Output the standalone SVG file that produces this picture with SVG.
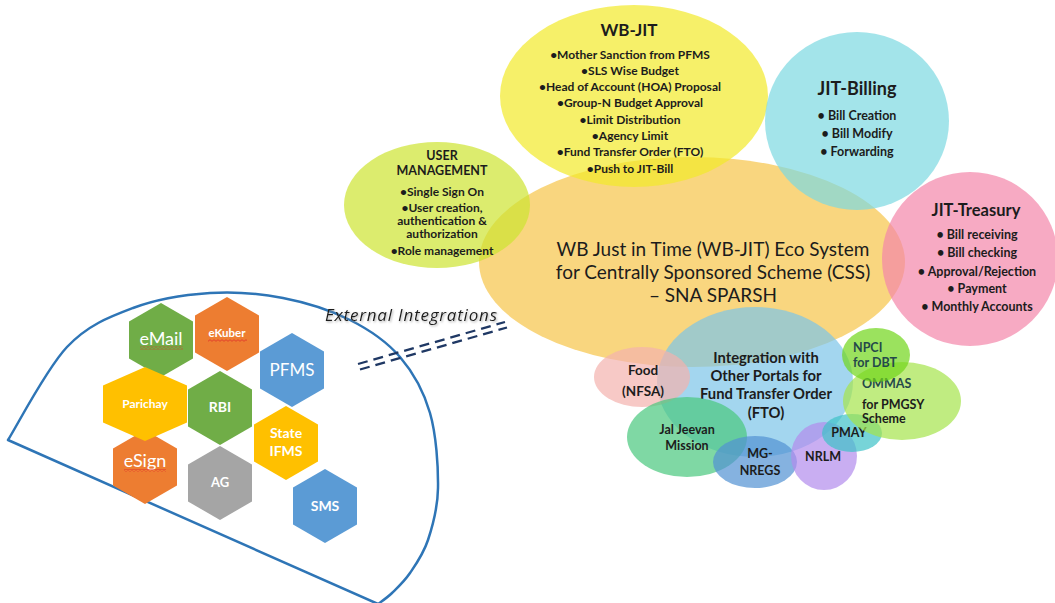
<svg xmlns="http://www.w3.org/2000/svg" width="1055" height="603" viewBox="0 0 1055 603">
<defs>
<style>
.bub{fill-opacity:0.7}
.t{font-family:Lato,"Liberation Sans",sans-serif;fill:#1c1c1c;text-anchor:middle}
.b{font-weight:700}
.s{text-anchor:start}
.dk{fill:#24494a}
.hx text{font-family:Lato,"Liberation Sans",sans-serif;fill:#fff;text-anchor:middle}
.green{fill:#70AD47}.orange{fill:#ED7D31}.blue{fill:#5B9BD5}.yellow{fill:#FFC000}.gray{fill:#A5A5A5}
.dash{stroke:#1F3864;stroke-width:2.3;stroke-dasharray:10 6;fill:none}
</style>
<polygon id="hex" points="0,-37 32,-18.5 32,18.5 0,37 -32,18.5 -32,-18.5"/>
<pattern id="sq" width="4" height="3" patternUnits="userSpaceOnUse"><path d="M0 2.3 L2 0.7 L4 2.3" stroke="#E0302A" stroke-width="0.8" fill="none"/></pattern>
<filter id="sh" x="-5%" y="-30%" width="110%" height="160%"><feDropShadow dx="1" dy="1.2" stdDeviation="0.8" flood-color="#888" flood-opacity="0.7"/></filter>
</defs>
<rect width="1055" height="603" fill="#fff"/>

<g id="main-ecosystem">
<ellipse class="bub" cx="692" cy="262" rx="213" ry="105" fill="#F6C448"/>
<text class="t" font-size="19" x="713" y="256">WB Just in Time (WB-JIT) Eco System</text>
<text class="t" font-size="19" x="713" y="279">for Centrally Sponsored Scheme (CSS)</text>
<text class="t" font-size="19" x="713" y="302">– SNA SPARSH</text>
</g>

<g id="wb-jit">
<ellipse class="bub" cx="634" cy="96" rx="134" ry="91" fill="#F2EA2A"/>
<text class="t b" font-size="17" x="629" y="36">WB-JIT</text>
<g font-size="12">
<text class="t b" x="630" y="59">•Mother Sanction from PFMS</text>
<text class="t b" x="630" y="75">•SLS Wise Budget</text>
<text class="t b" x="630" y="91">•Head of Account (HOA) Proposal</text>
<text class="t b" x="630" y="107">•Group-N Budget Approval</text>
<text class="t b" x="630" y="124">•Limit Distribution</text>
<text class="t b" x="630" y="140">•Agency Limit</text>
<text class="t b" x="630" y="156">•Fund Transfer Order (FTO)</text>
<text class="t b" x="630" y="173">•Push to JIT-Bill</text>
</g>
</g>

<g id="user-management">
<ellipse class="bub" cx="437" cy="205" rx="93" ry="63" fill="#CDE430"/>
<text class="t b" font-size="12.5" x="442" y="160">USER</text>
<text class="t b" font-size="12.5" x="442" y="175">MANAGEMENT</text>
<g font-size="12">
<text class="t b" x="442" y="196">•Single Sign On</text>
<text class="t b" x="442" y="212">•User creation,</text>
<text class="t b" x="442" y="225">authentication &amp;</text>
<text class="t b" x="442" y="238">authorization</text>
<text class="t b" x="442" y="255">•Role management</text>
</g>
</g>

<g id="jit-billing">
<ellipse class="bub" cx="857" cy="121" rx="92" ry="89" fill="#7CD8E1"/>
<text class="t b" font-size="18" x="857" y="95">JIT-Billing</text>
<g font-size="12.5">
<text class="t b" x="857" y="120">• Bill Creation</text>
<text class="t b" x="857" y="138">• Bill Modify</text>
<text class="t b" x="857" y="156">• Forwarding</text>
</g>
</g>

<g id="jit-treasury">
<ellipse class="bub" cx="970" cy="259" rx="88" ry="87" fill="#F486A9"/>
<text class="t b" font-size="16.5" x="976" y="216">JIT-Treasury</text>
<g font-size="12.5">
<text class="t b" x="977" y="239">• Bill receiving</text>
<text class="t b" x="977" y="257">• Bill checking</text>
<text class="t b" x="977" y="276">• Approval/Rejection</text>
<text class="t b" x="977" y="293">• Payment</text>
<text class="t b" x="977" y="311">• Monthly Accounts</text>
</g>
</g>

<g id="integration-fto">
<ellipse class="bub" cx="755" cy="382" rx="98" ry="75" fill="#7CC5E8"/>
<g font-size="14.8">
<text class="t b" x="766" y="363">Integration with</text>
<text class="t b" x="766" y="381">Other Portals for</text>
<text class="t b" x="766" y="399">Fund Transfer Order</text>
<text class="t b" x="766" y="418">(FTO)</text>
</g>
</g>

<g id="food-nfsa">
<ellipse class="bub" cx="642" cy="377" rx="48" ry="30" fill="#F4B2AE"/>
<text class="t b" font-size="13.5" x="643" y="375">Food</text>
<text class="t b" font-size="13.5" x="643" y="396">(NFSA)</text>
</g>

<g id="jal-jeevan">
<ellipse class="bub" cx="687" cy="437" rx="60" ry="40" fill="#48C77D"/>
<text class="t b" font-size="12.5" x="687" y="434">Jal Jeevan</text>
<text class="t b" font-size="12.5" x="687" y="450">Mission</text>
</g>

<g id="mg-nregs">
<ellipse class="bub" cx="755" cy="462" rx="42" ry="26" fill="#5192D3"/>
<text class="t b" font-size="12.5" x="760" y="458">MG-</text>
<text class="t b" font-size="12.5" x="760" y="475">NREGS</text>
</g>

<g id="nrlm">
<ellipse class="bub" cx="824" cy="456" rx="33" ry="34" fill="#B28BEC"/>
<text class="t b" font-size="12.5" x="823" y="461">NRLM</text>
</g>

<g id="pmay">
<ellipse class="bub" cx="852" cy="433" rx="30" ry="19" fill="#3DC2C7"/>
<text class="t b" font-size="12.5" x="849" y="437">PMAY</text>
</g>

<g id="ommas">
<ellipse class="bub" cx="902" cy="401" rx="59" ry="39" fill="#A5E44C"/>
<text class="t b s dk" font-size="12.5" x="862" y="388">OMMAS</text>
<text class="t b s" font-size="12.5" x="862" y="409">for PMGSY</text>
<text class="t b s" font-size="12.5" x="862" y="423">Scheme</text>
</g>

<g id="npci-dbt">
<ellipse class="bub" cx="876" cy="355" rx="34" ry="27" fill="#70D619"/>
<text class="t b s dk" font-size="12.5" x="853" y="352">NPCI</text>
<text class="t b s dk" font-size="12.5" x="853" y="367">for DBT</text>
</g>

<g id="external-integrations">
<path d="M8 440 C17.8 424.5 46.2 369 67 347 C87.8 325 109.2 317 133 308 C156.8 299 185 294.7 210 293 C235 291.3 259.7 293.5 283 298 C306.3 302.5 330.5 310.2 350 320 C369.5 329.8 386.7 341.5 400 357 C413.3 372.5 423.7 391.2 430 413 C436.3 434.8 438.3 466.8 438 488 C437.7 509.2 432.7 525.8 428 540 C423.3 554.2 416 564.2 410 573 C404 581.8 397.3 587.8 392 593 C386.7 598.2 380.3 602.2 378 604 Z" fill="none" stroke="#2E75B6" stroke-width="2.5" stroke-linejoin="round"/>
<text x="325" y="321" font-family="'Open Sans','DejaVu Sans',sans-serif" font-style="italic" font-size="17" fill="#1a1a1a" textLength="172" filter="url(#sh)">External Integrations</text>
</g>

<g id="hexagons" class="hx">
<g id="hex-email"><use href="#hex" class="green" x="161" y="340"/><text x="161" y="345" font-size="18">eMail</text><rect x="140" y="346.5" width="43" height="3" fill="url(#sq)"/></g>
<g id="hex-ekuber"><use href="#hex" class="orange" x="227" y="334"/><text x="227" y="337" font-size="11.5" font-weight="700">eKuber</text><rect x="208" y="339" width="39" height="3" fill="url(#sq)"/></g>
<g id="hex-pfms"><use href="#hex" class="blue" x="292" y="370"/><text x="292" y="376" font-size="17">PFMS</text></g>
<g id="hex-esign"><use href="#hex" class="orange" x="145" y="467"/><text x="145" y="467" font-size="18">eSign</text><rect x="124" y="469" width="42" height="3" fill="url(#sq)"/></g>
<g id="hex-parichay"><polygon class="yellow" points="145,367 187,385.5 187,422.5 145,441 103,422.5 103,385.5"/><text x="145" y="407.5" font-size="12" font-weight="700">Parichay</text></g>
<g id="hex-rbi"><use href="#hex" class="green" x="220" y="408"/><text x="220" y="412" font-size="14" font-weight="700">RBI</text></g>
<g id="hex-state-ifms"><use href="#hex" class="yellow" x="286" y="443"/><text x="286" y="438" font-size="14" font-weight="700">State</text><text x="286" y="456" font-size="14" font-weight="700">IFMS</text></g>
<g id="hex-ag"><use href="#hex" class="gray" x="220" y="483"/><text x="220" y="487" font-size="13" font-weight="700">AG</text></g>
<g id="hex-sms"><use href="#hex" class="blue" x="325" y="506"/><text x="325" y="511" font-size="14" font-weight="700">SMS</text></g>
</g>

<g id="connectors">
<line class="dash" x1="358" y1="364" x2="505" y2="322"/>
<line class="dash" x1="360" y1="369.5" x2="507" y2="327.5"/>
</g>
</svg>
